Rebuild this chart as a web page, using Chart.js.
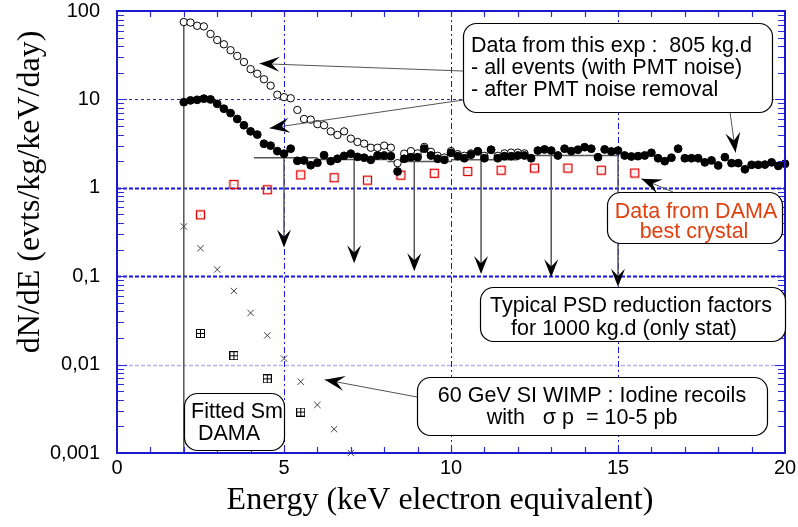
<!DOCTYPE html>
<html>
<head>
<meta charset="utf-8">
<script src="https://cdn.jsdelivr.net/npm/chart.js@4.4.0/dist/chart.umd.min.js"></script>
<style>
  html, body { margin: 0; padding: 0; background: #fff; }
</style>
</head>
<body>
<canvas id="c" width="798" height="527"></canvas>
<script>
// energies (keV) of the measured bins
const energies = [2.0, 2.2, 2.4, 2.6, 2.8, 3.0, 3.2, 3.4, 3.6, 3.8, 4.0, 4.2, 4.4, 4.6, 4.8,
  5.0, 5.2, 5.4, 5.6, 5.8, 6.0, 6.2, 6.4, 6.6, 6.8, 7.0, 7.2, 7.4, 7.6, 7.8,
  8.0, 8.2, 8.4, 8.6, 8.8, 9.0, 9.2, 9.4, 9.6, 9.8, 10.0, 10.2, 10.4, 10.6, 10.8,
  11.0, 11.2, 11.4, 11.6, 11.8, 12.0, 12.2, 12.4, 12.6, 12.8, 13.0, 13.2, 13.4, 13.6, 13.8,
  14.0, 14.2, 14.4, 14.6, 14.8, 15.0, 15.2, 15.4, 15.6, 15.8, 16.0, 16.2, 16.4, 16.6, 16.8,
  17.0, 17.2, 17.4, 17.6, 17.8, 18.0, 18.2, 18.4, 18.6, 18.8, 19.0, 19.2, 19.4, 19.6, 19.8, 20.0];

// all events (with PMT noise), open circles, 2.0 .. 12.2 keV
const allEvents = [75, 74, 68, 67, 55, 47, 42, 36, 31, 26.5, 22, 19.5, 16.9, 14.3, 11.3,
  10.6, 10.3, 7.6, 6.0, 5.9, 5.25, 5.1, 4.35, 3.96, 4.35, 3.6, 3.3, 3.16, 2.84, 2.84,
  3.0, 2.84, 1.9, 2.43, 2.6, 2.45, 2.9, 2.55, 2.3, 2.2, 2.6, 2.4, 2.3, 2.45, 2.6,
  2.3, 2.7, 2.3, 2.45, 2.5, 2.5, 2.45];

// after PMT noise removal, filled circles, 2.0 .. 20.0 keV
const afterNoise = [9.3, 9.75, 9.9, 10.2, 10.0, 8.9, 7.85, 7.0, 6.0, 5.1, 4.35, 4.0, 3.15, 3.0, 2.6,
  2.43, 2.77, 2.02, 2.04, 1.80, 1.92, 2.34, 2.0, 2.13, 2.3, 2.43, 2.24, 2.19, 2.07, 2.32,
  2.32, 2.28, 1.53, 2.13, 2.22, 2.22, 2.77, 2.32, 2.13, 2.07, 2.49, 2.28, 2.16, 2.37, 2.58,
  2.16, 2.69, 2.16, 2.28, 2.28, 2.32, 2.32, 2.16, 2.64, 2.72, 2.64, 2.32, 2.77, 2.6, 2.7,
  2.88, 2.77, 2.22, 2.72, 2.58, 2.64, 2.32, 2.26, 2.28, 2.32, 2.49, 2.16, 2.0, 2.19, 2.77,
  2.16, 2.16, 2.16, 1.94, 2.04, 1.79, 2.22, 1.90, 1.90, 1.62, 1.82, 1.82, 1.83, 1.94, 1.77, 1.87];

// DAMA best crystal
const damaE = [2.5, 3.5, 4.5, 5.5, 6.5, 7.5, 8.5, 9.5, 10.5, 11.5, 12.5, 13.5, 14.5, 15.5];
const damaRate = [0.494, 1.09, 0.95, 1.40, 1.30, 1.22, 1.39, 1.46, 1.53, 1.58, 1.67, 1.67, 1.58, 1.47];

// 60 GeV WIMP, iodine recoils
const wimpE = [2.0, 2.5, 3.0, 3.5, 4.0, 4.5, 5.0, 5.5, 6.0, 6.5, 7.0];
const wimpRate = [0.365, 0.207, 0.119, 0.068, 0.0384, 0.0214, 0.0117, 0.0064, 0.0035, 0.00186, 0.001];

// fitted Sm (DAMA)
const smE = [2.5, 3.5, 4.5, 5.5];
const smRate = [0.0225, 0.0126, 0.0069, 0.0029];

// typical PSD reduction factors, per bin
const psdLo = [4.1, 6.0, 8.1, 10.0, 12.0, 14.0];
const psdHi = [6.0, 8.1, 10.0, 12.0, 14.0, 15.0];
const psdCenter = [5.0, 7.1, 8.9, 10.9, 13.0, 15.0];
const psdLevel = [2.19, 2.09, 1.99, 2.07, 2.32, 2.32];
const psdReduced = [0.211, 0.140, 0.114, 0.106, 0.097, 0.076];

// threshold line
const thresholdE = [2.0, 2.0];
const thresholdRate = [75, 0.001];

const yTickValues = [0.001, 0.01, 0.1, 1, 10, 100];
const yTickLabels = ['0,001', '0,01', '0,1', '1', '10', '100'];
const xTickValues = [0, 5, 10, 15, 20];
const xTickLabels = ['0', '5', '10', '15', '20'];

const xTitle = 'Energy (keV electron equivalent)';
const yTitle = 'dN/dE (evts/kg/keV/day)';

function pts(xs, ys) {
  return ys.map((v, i) => ({ x: xs[i], y: v }));
}

function squareDot() {
  const c = document.createElement('canvas');
  c.width = c.height = 11;
  const g = c.getContext('2d');
  g.strokeStyle = '#e00000';
  g.lineWidth = 1.3;
  g.strokeRect(1.5, 1.5, 8, 8);
  g.fillStyle = '#f07070';
  g.fillRect(5, 5, 1, 1);
  return c;
}

function squarePlus() {
  const c = document.createElement('canvas');
  c.width = c.height = 9;
  const g = c.getContext('2d');
  g.strokeStyle = '#000';
  g.lineWidth = 1;
  g.strokeRect(0.5, 0.5, 8, 8);
  g.beginPath();
  g.moveTo(4.5, 0.5); g.lineTo(4.5, 8.5);
  g.moveTo(0.5, 4.5); g.lineTo(8.5, 4.5);
  g.stroke();
  return c;
}

function arrowHead(ctx, tx, ty, fx, fy, len, half) {
  const ang = Math.atan2(ty - fy, tx - fx);
  const dx = Math.cos(ang), dy = Math.sin(ang);
  const px = -dy, py = dx;
  ctx.beginPath();
  ctx.moveTo(tx, ty);
  ctx.lineTo(tx - len * dx + half * px, ty - len * dy + half * py);
  ctx.lineTo(tx - len * 0.6 * dx, ty - len * 0.6 * dy);
  ctx.lineTo(tx - len * dx - half * px, ty - len * dy - half * py);
  ctx.closePath();
  ctx.fillStyle = '#000';
  ctx.fill();
}

// annotation arrows: tip in data space, tail in pixels (box edge)
const leaders = [
  { tip: [4.27, 25.4], tail: [463, 71] },
  { tip: [4.57, 4.73], tail: [463, 100] },
  { tip: [18.52, 2.51], tail: [730, 112] },
  { tip: [15.7, 1.265], tail: [673, 192] },
  { tip: [6.22, 0.00675], tail: [417, 397] }
];

const boxes = [
  { x: 463, y: 23, w: 309, h: 89, align: 'left', color: '#000', lines: [
    ['Data from this exp :  805 kg.d', 471, 52],
    ['- all events (with PMT noise)', 471, 74],
    ['- after PMT noise removal', 471, 96]] },
  { x: 607, y: 192, w: 175, h: 51, align: 'center', color: '#e0400e', lines: [
    ['Data from DAMA', 696, 218],
    ['best crystal', 694, 238]] },
  { x: 480, y: 287, w: 305, h: 54, align: 'center', color: '#000', lines: [
    ['Typical PSD reduction factors', 631, 312],
    ['for 1000 kg.d (only stat)', 624, 335]] },
  { x: 417, y: 377, w: 350, h: 58, align: 'center', color: '#000', lines: [
    ['60 GeV SI WIMP : Iodine recoils', 592, 402],
    ['with   \u03c3 p  = 10-5 pb', 582, 424]] },
  { x: 184, y: 393, w: 100, h: 57, align: 'left', color: '#000', lines: [
    ['Fitted Sm', 191, 418],
    ['DAMA', 198, 440]] }
];

const decor = {
  id: 'decor',
  beforeDraw(chart) {
    const ctx = chart.ctx;
    ctx.save();
    ctx.fillStyle = '#fff';
    ctx.fillRect(0, 0, chart.width, chart.height);
    ctx.restore();
  },
  beforeDatasetsDraw(chart) {
    const ctx = chart.ctx, a = chart.chartArea;
    const xs = chart.scales.x, ys = chart.scales.y;
    ctx.save();
    function hline(v, color, w, dash) {
      const py = Math.round(ys.getPixelForValue(v)) + 0.5;
      ctx.strokeStyle = color; ctx.lineWidth = w; ctx.setLineDash(dash);
      ctx.beginPath(); ctx.moveTo(a.left, py); ctx.lineTo(a.right, py); ctx.stroke();
    }
    function vline(v, color, w, dash) {
      const px = Math.round(xs.getPixelForValue(v)) + 0.5;
      ctx.strokeStyle = color; ctx.lineWidth = w; ctx.setLineDash(dash);
      ctx.beginPath(); ctx.moveTo(px, a.top); ctx.lineTo(px, a.bottom); ctx.stroke();
    }
    hline(10, '#2a2a9a', 1, [3, 3]);
    hline(1, '#1515e0', 2, [4, 2]);
    hline(0.1, '#1515e0', 2, [4, 2]);
    hline(0.01, '#b4b4ee', 1.5, [4, 2]);
    [5, 10, 15].forEach(v => vline(v, '#1515e0', 1, [6, 3, 2, 3]));
    ctx.setLineDash([]);

    // PSD reduction bins
    ctx.strokeStyle = '#555';
    ctx.lineWidth = 1.5;
    psdCenter.forEach((c, i) => {
      const yl = ys.getPixelForValue(psdLevel[i]);
      ctx.beginPath();
      ctx.moveTo(xs.getPixelForValue(psdLo[i]), yl);
      ctx.lineTo(xs.getPixelForValue(psdHi[i]), yl);
      ctx.stroke();
      const px = xs.getPixelForValue(c);
      const yt = ys.getPixelForValue(psdReduced[i]);
      ctx.beginPath();
      ctx.moveTo(px, yl);
      ctx.lineTo(px, yt - 4);
      ctx.stroke();
      arrowHead(ctx, px, yt, px, yl, 18, 7);
    });
    ctx.restore();
  },
  afterDatasetsDraw(chart) {
    const ctx = chart.ctx, a = chart.chartArea;
    const xs = chart.scales.x, ys = chart.scales.y;
    ctx.save();

    // frame ticks
    ctx.strokeStyle = '#2a2ad8';
    ctx.lineWidth = 1.2;
    for (let d = 0.001; d < 99; d *= 10) {
      for (let m = 1; m <= 9; m++) {
        const py = Math.round(ys.getPixelForValue(d * m)) + 0.5;
        const len = m === 1 ? 10 : 7;
        ctx.beginPath();
        ctx.moveTo(a.left, py); ctx.lineTo(a.left + len, py);
        ctx.moveTo(a.right, py); ctx.lineTo(a.right - len, py);
        ctx.stroke();
      }
    }
    for (let e = 1; e < 20; e++) {
      const px = Math.round(xs.getPixelForValue(e)) + 0.5;
      ctx.beginPath();
      ctx.moveTo(px, a.top); ctx.lineTo(px, a.top + 6);
      ctx.moveTo(px, a.bottom); ctx.lineTo(px, a.bottom - 6);
      ctx.stroke();
    }
    ctx.strokeStyle = '#1a1acc';
    ctx.lineWidth = 2;
    ctx.strokeRect(a.left, a.top, a.right - a.left, a.bottom - a.top);

    // leader lines
    leaders.forEach(l => {
      const tx = xs.getPixelForValue(l.tip[0]);
      const ty = ys.getPixelForValue(l.tip[1]);
      ctx.strokeStyle = '#555';
      ctx.lineWidth = 1;
      ctx.beginPath();
      ctx.moveTo(l.tail[0], l.tail[1]);
      ctx.lineTo(tx, ty);
      ctx.stroke();
      arrowHead(ctx, tx, ty, l.tail[0], l.tail[1], 20, 7.5);
    });

    // boxes
    boxes.forEach(b => {
      ctx.beginPath();
      ctx.roundRect(b.x + 0.5, b.y + 0.5, b.w, b.h, 13);
      ctx.fillStyle = '#fff';
      ctx.fill();
      ctx.strokeStyle = '#000';
      ctx.lineWidth = 1.2;
      ctx.stroke();
      ctx.save();
      ctx.clip();
      ctx.font = '21.5px "Liberation Sans", Arial, sans-serif';
      ctx.fillStyle = b.color;
      ctx.textAlign = b.align;
      ctx.textBaseline = 'alphabetic';
      b.lines.forEach(t => ctx.fillText(t[0], t[1], t[2]));
      ctx.restore();
    });

    // axis titles
    ctx.fillStyle = '#000';
    ctx.font = '32px "Liberation Serif", "Times New Roman", serif';
    ctx.textAlign = 'center';
    ctx.textBaseline = 'middle';
    ctx.fillText(xTitle, 440, 501);
    ctx.translate(31, 192);
    ctx.rotate(-Math.PI / 2);
    ctx.fillText(yTitle, 0, 0);
    ctx.restore();
  }
};

new Chart(document.getElementById('c'), {
  type: 'scatter',
  data: {
    datasets: [
      { label: 'after PMT noise removal', data: pts(energies, afterNoise), order: 1,
        pointStyle: 'circle', pointRadius: 3.9, backgroundColor: '#000', borderColor: '#000', borderWidth: 1, clip: false },
      { label: 'all events', data: pts(energies, allEvents), order: 2,
        pointStyle: 'circle', pointRadius: 3.7, backgroundColor: '#fff', borderColor: '#000', borderWidth: 1, clip: false },
      { label: 'DAMA best crystal', data: pts(damaE, damaRate), order: 3,
        pointStyle: squareDot(), clip: false },
      { label: 'WIMP', data: pts(wimpE, wimpRate), order: 4,
        pointStyle: 'crossRot', pointRadius: 4.5, borderColor: '#444', borderWidth: 1, clip: false },
      { label: 'Fitted Sm DAMA', data: pts(smE, smRate), order: 5,
        pointStyle: squarePlus(), clip: false },
      { label: 'threshold', data: pts(thresholdE, thresholdRate), order: 9, showLine: true,
        borderColor: '#555', borderWidth: 1.5, pointRadius: 0 }
    ]
  },
  options: {
    responsive: false,
    animation: false,
    devicePixelRatio: 1,
    layout: { padding: { left: 0, top: 11, right: 13, bottom: 0 } },
    plugins: { legend: { display: false }, tooltip: { enabled: false } },
    scales: {
      x: {
        type: 'linear', min: 0, max: 20,
        afterFit: s => { s.height = 74; s.paddingLeft = 0; s.paddingRight = 0; },
        afterBuildTicks: s => { s.ticks = xTickValues.map(v => ({ value: v })); },
        grid: { display: false, drawTicks: false },
        border: { display: false },
        ticks: {
          autoSkip: false, maxRotation: 0, padding: 5, color: '#000',
          font: { family: 'Liberation Sans', size: 20, lineHeight: 1 },
          callback: v => xTickLabels[xTickValues.indexOf(v)]
        }
      },
      y: {
        type: 'logarithmic', min: 0.001, max: 100,
        afterFit: s => { s.width = 117; s.paddingTop = 0; s.paddingBottom = 0; },
        afterBuildTicks: s => { s.ticks = yTickValues.map(v => ({ value: v })); },
        grid: { display: false, drawTicks: false },
        border: { display: false },
        ticks: {
          autoSkip: false, padding: 17, color: '#000',
          font: { family: 'Liberation Sans', size: 20, lineHeight: 1 },
          callback: v => { const i = yTickValues.indexOf(v); return i >= 0 ? yTickLabels[i] : ''; }
        }
      }
    }
  },
  plugins: [decor]
});
</script>
</body>
</html>
